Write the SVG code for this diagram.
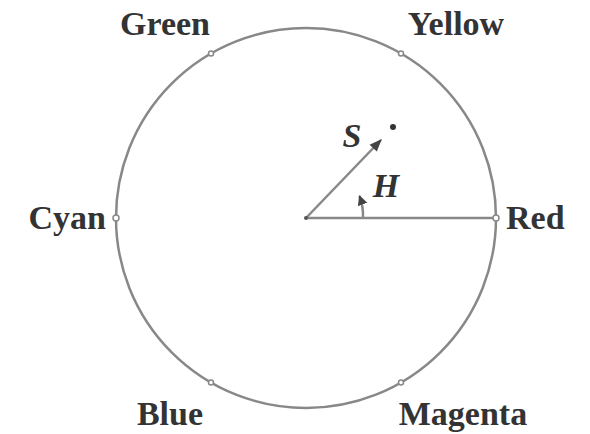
<svg xmlns="http://www.w3.org/2000/svg" width="590" height="434" viewBox="0 0 590 434">
<style>
.lbl{font-family:"Liberation Serif","Times New Roman",serif;font-weight:bold;font-size:34px;fill:#333}
.sym{font-family:"Liberation Serif","Times New Roman",serif;font-weight:bold;font-style:italic;font-size:34px;fill:#333}
.ln{stroke:#888;stroke-width:2.5;fill:none}
.pt{fill:#fff;stroke:#888;stroke-width:1.5}
</style>
<defs>
<marker id="ah" viewBox="0 0 10 10" refX="9" refY="5" markerWidth="6" markerHeight="5" orient="auto" markerUnits="strokeWidth">
<path d="M0,1 L10,5 L0,9 z" fill="#444"/>
</marker>
<marker id="ah2" viewBox="0 0 10 10" refX="9" refY="5" markerWidth="4" markerHeight="5" orient="auto" markerUnits="strokeWidth">
<path d="M0,0 L10,5 L0,10 z" fill="#444"/>
</marker>
</defs>
<g id="wheel">
<circle cx="306" cy="218" r="190" class="ln"/>
</g>
<g id="connectors">
<line x1="306" y1="218" x2="496" y2="218" class="ln" stroke="#aaa" stroke-width="2"/>
<line x1="306" y1="218" x2="381" y2="140" class="ln" marker-end="url(#ah)"/>
<path d="M363,218 A57,57 0 0 0 359.5,196" class="ln" marker-end="url(#ah2)"/>
</g>
<g id="points">
<circle cx="496" cy="218" r="3" class="pt"/>
<circle cx="116" cy="218" r="3" class="pt"/>
<circle cx="401" cy="53.5" r="2.5" class="pt"/>
<circle cx="211" cy="53.5" r="2.5" class="pt"/>
<circle cx="211" cy="382.5" r="2.5" class="pt"/>
<circle cx="401" cy="382.5" r="2.5" class="pt"/>
<circle cx="306" cy="218" r="2" fill="#555"/>
<circle cx="393" cy="127" r="3" fill="#333"/>
</g>
<g id="label-green"><text class="lbl" x="165" y="35" text-anchor="middle">Green</text></g>
<g id="label-yellow"><text class="lbl" x="456" y="35" text-anchor="middle">Yellow</text></g>
<g id="label-cyan"><text class="lbl" x="106" y="229" text-anchor="end">Cyan</text></g>
<g id="label-red"><text class="lbl" x="506" y="229">Red</text></g>
<g id="label-blue"><text class="lbl" x="170" y="425" text-anchor="middle">Blue</text></g>
<g id="label-magenta"><text class="lbl" x="463" y="425" text-anchor="middle">Magenta</text></g>
<g id="label-s"><text class="sym" x="352" y="147" text-anchor="middle">S</text></g>
<g id="label-h"><text class="sym" x="386" y="197" text-anchor="middle">H</text></g>
</svg>
